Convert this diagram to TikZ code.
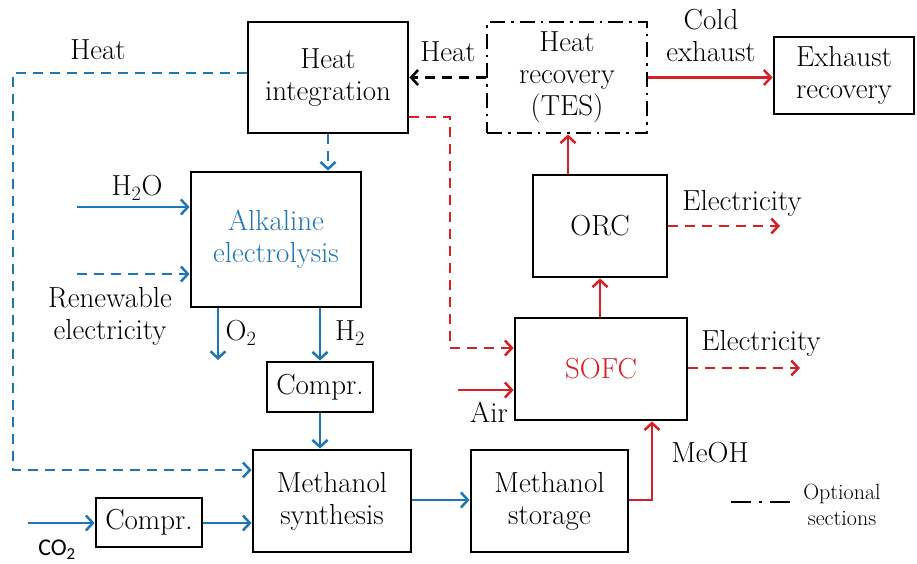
\documentclass[tikz,border=0pt]{standalone}
\usepackage{fontspec}
\newfontfamily\carlito{Carlito}
\usetikzlibrary{arrows.meta}
\definecolor{fblue}{RGB}{31,118,180}
\definecolor{fred}{RGB}{213,32,39}
\tikzset{
 box/.style={draw=black,line width=2.8pt,inner sep=0pt,align=center,font=\fontsize{29}{32}\selectfont},
 lbl/.style={inner sep=0pt,align=center,font=\fontsize{29}{32}\selectfont},
 small/.style={inner sep=0pt,align=center,font=\fontsize{22}{26}\selectfont},
 flow/.style={line width=2.5pt,-{Straight Barb[length=7pt,width=15pt]}},
 dsh/.style={dash pattern=on 10pt off 7pt},
 optional/.style={dash pattern=on 15pt off 6pt on 2.5pt off 6pt},
}
\begin{document}
\begin{tikzpicture}[x=1pt,y=-1pt]
\useasboundingbox (0,0) rectangle (917,563);
% boxes
\node[box,minimum width=160pt,minimum height=111pt] (hi) at (328,77.5) {Heat\\integration};
\node[box,optional,minimum width=160pt,minimum height=111pt] (hr) at (567,77.5) {Heat\\recovery\\(TES)};
\node[box,minimum width=140pt,minimum height=77pt] (er) at (844,75.5) {Exhaust\\recovery};
\node[box,text=fblue,minimum width=170pt,minimum height=135pt] (ae) at (276,239.5) {Alkaline\\electrolysis};
\node[box,minimum width=134pt,minimum height=102pt] (orc) at (600,226) {ORC};
\node[box,text=fred,minimum width=172pt,minimum height=102pt] (sofc) at (601,369) {SOFC};
\node[box,minimum width=106pt,minimum height=50pt] (c1) at (320,387) {Compr.};
\node[box,minimum width=158pt,minimum height=102pt] (ms) at (332,501) {Methanol\\synthesis};
\node[box,minimum width=106pt,minimum height=49pt] (c2) at (149,522.5) {Compr.};
\node[box,minimum width=157pt,minimum height=102pt] (st) at (549.5,501) {Methanol\\storage};
% labels
\node[lbl] (lheat1) at (98,50) {Heat};
\node[lbl] (lheat2) at (448,52) {Heat};
\node[lbl] (lcold) at (711,35) {Cold\\exhaust};
\node[lbl] (lh2o) at (137,188) {H\textsubscript{2}O};
\node[lbl] (lren) at (110,316) {Renewable\\electricity};
\node[lbl] (lo2) at (241,333) {O\textsubscript{2}};
\node[lbl] (lh2) at (350,333) {H\textsubscript{2}};
\node[lbl] (lel1) at (742,203) {Electricity};
\node[lbl] (lel2) at (761,343) {Electricity};
\node[lbl] (lair) at (489,412) {Air};
\node[lbl] (lmeoh) at (710,453) {MeOH};
\node[inner sep=0pt,font=\carlito\fontsize{24}{28}\selectfont] (lco2) at (57,550) {CO\textsubscript{2}};
\node[small] (lopt) at (842,505) {Optional\\sections};
% coordinates
\coordinate (h2oS) at (77,207);
\coordinate (renS) at (77,274);
\coordinate (o2E) at (218,360);
\coordinate (co2S) at (28,523);
\coordinate (el1E) at (780,226);
\coordinate (el2E) at (800,368);
\coordinate (airS) at (458,390);
\coordinate (legA) at (731,502);
\coordinate (legB) at (795,502);
% connectors
\draw[flow,dsh,black] (hr.west) -- (hi.east);
\draw[flow,fred] (hr.east) -- (hr.east -| er.west);
\draw[flow,dsh,fblue] (hi.west |- 0,73) -- (13,73) -- (13,470) -- (ms.west |- 0,470);
\draw[flow,dsh,fblue] (hi.south) -- (hi.south |- ae.north);
\draw[flow,fblue] (h2oS) -- (h2oS -| ae.west);
\draw[flow,dsh,fblue] (renS) -- (renS -| ae.west);
\draw[flow,fblue] (ae.south -| o2E) -- (o2E);
\draw[flow,fblue] (ae.south -| c1.north) -- (c1.north);
\draw[flow,fblue] (c1.south) -- (c1.south |- ms.north);
\draw[flow,fblue] (co2S) -- (co2S -| c2.west);
\draw[flow,fblue] (c2.east |- co2S) -- (ms.west |- co2S);
\draw[flow,fblue] (ms.east |- 0,500) -- (st.west |- 0,500);
\draw[flow,fred] (st.east |- 0,500) -- (652,500) -- (sofc.south -| 652,0);
\draw[flow,fred] (sofc.north -| 600,0) -- (orc.south -| 600,0);
\draw[flow,fred] (orc.north -| 568,0) -- (hr.south -| 568,0);
\draw[flow,dsh,fred] (orc.east) -- (el1E);
\draw[flow,dsh,fred] (sofc.east |- el2E) -- (el2E);
\draw[flow,dsh,fred] (hi.east |- 0,117) -- (450,117) -- (450,348) -- (sofc.west |- 0,348);
\draw[flow,fred] (airS) -- (airS -| sofc.west);
\draw[line width=2.8pt,dash pattern=on 20pt off 8pt on 3pt off 8pt] (legA) -- (legB);
\end{tikzpicture}
\end{document}
